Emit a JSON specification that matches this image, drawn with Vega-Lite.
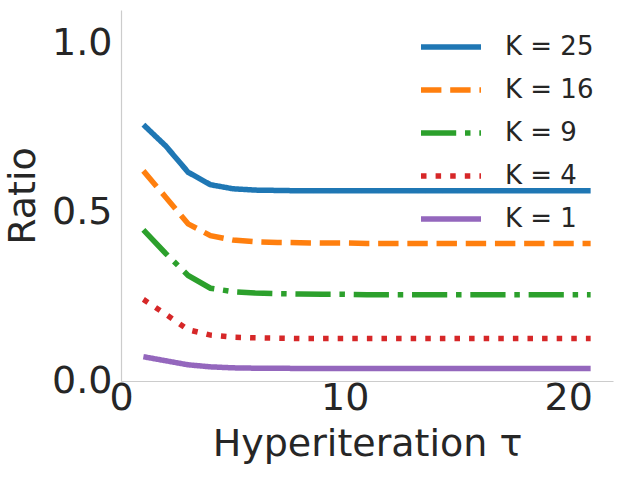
{
"$schema": "https://vega.github.io/schema/vega-lite/v6.json",
"autosize": "none",
"width": 492,
"height": 371,
"padding": {"left": 121, "top": 10, "right": 13, "bottom": 99},
"background": "white",
"config": {
  "view": {"stroke": null},
  "font": "DejaVu Sans",
  "axis": {"domainColor": "#cccccc", "domainWidth": 1.2, "ticks": false, "grid": false, "labelFlush": false,
    "labelFont": "DejaVu Sans", "labelFontSize": 38, "labelColor": "#262626",
    "titleFont": "DejaVu Sans", "titleFontSize": 38, "titleColor": "#262626", "titleFontWeight": "normal"}
},
"data": {"values": [
  {"t": 1, "K": "K = 25", "r": 0.760}, {"t": 2, "K": "K = 25", "r": 0.697}, {"t": 3, "K": "K = 25", "r": 0.619},
  {"t": 4, "K": "K = 25", "r": 0.582}, {"t": 5, "K": "K = 25", "r": 0.570}, {"t": 6, "K": "K = 25", "r": 0.566},
  {"t": 7, "K": "K = 25", "r": 0.565}, {"t": 8, "K": "K = 25", "r": 0.564}, {"t": 9, "K": "K = 25", "r": 0.564},
  {"t": 10, "K": "K = 25", "r": 0.564}, {"t": 11, "K": "K = 25", "r": 0.564}, {"t": 12, "K": "K = 25", "r": 0.564},
  {"t": 13, "K": "K = 25", "r": 0.564}, {"t": 14, "K": "K = 25", "r": 0.564}, {"t": 15, "K": "K = 25", "r": 0.564},
  {"t": 16, "K": "K = 25", "r": 0.564}, {"t": 17, "K": "K = 25", "r": 0.564}, {"t": 18, "K": "K = 25", "r": 0.564},
  {"t": 19, "K": "K = 25", "r": 0.564}, {"t": 20, "K": "K = 25", "r": 0.564}, {"t": 21, "K": "K = 25", "r": 0.564},

  {"t": 1, "K": "K = 16", "r": 0.623}, {"t": 2, "K": "K = 16", "r": 0.545}, {"t": 3, "K": "K = 16", "r": 0.466},
  {"t": 4, "K": "K = 16", "r": 0.431}, {"t": 5, "K": "K = 16", "r": 0.418}, {"t": 6, "K": "K = 16", "r": 0.413},
  {"t": 7, "K": "K = 16", "r": 0.411}, {"t": 8, "K": "K = 16", "r": 0.410}, {"t": 9, "K": "K = 16", "r": 0.409},
  {"t": 10, "K": "K = 16", "r": 0.409}, {"t": 11, "K": "K = 16", "r": 0.408}, {"t": 12, "K": "K = 16", "r": 0.408},
  {"t": 13, "K": "K = 16", "r": 0.408}, {"t": 14, "K": "K = 16", "r": 0.408}, {"t": 15, "K": "K = 16", "r": 0.408},
  {"t": 16, "K": "K = 16", "r": 0.408}, {"t": 17, "K": "K = 16", "r": 0.408}, {"t": 18, "K": "K = 16", "r": 0.408},
  {"t": 19, "K": "K = 16", "r": 0.408}, {"t": 20, "K": "K = 16", "r": 0.408}, {"t": 21, "K": "K = 16", "r": 0.408},

  {"t": 1, "K": "K = 9", "r": 0.448}, {"t": 2, "K": "K = 9", "r": 0.378}, {"t": 3, "K": "K = 9", "r": 0.313},
  {"t": 4, "K": "K = 9", "r": 0.275}, {"t": 5, "K": "K = 9", "r": 0.265}, {"t": 6, "K": "K = 9", "r": 0.261},
  {"t": 7, "K": "K = 9", "r": 0.259}, {"t": 8, "K": "K = 9", "r": 0.258}, {"t": 9, "K": "K = 9", "r": 0.257},
  {"t": 10, "K": "K = 9", "r": 0.257}, {"t": 11, "K": "K = 9", "r": 0.256}, {"t": 12, "K": "K = 9", "r": 0.256},
  {"t": 13, "K": "K = 9", "r": 0.256}, {"t": 14, "K": "K = 9", "r": 0.256}, {"t": 15, "K": "K = 9", "r": 0.256},
  {"t": 16, "K": "K = 9", "r": 0.256}, {"t": 17, "K": "K = 9", "r": 0.256}, {"t": 18, "K": "K = 9", "r": 0.256},
  {"t": 19, "K": "K = 9", "r": 0.256}, {"t": 20, "K": "K = 9", "r": 0.256}, {"t": 21, "K": "K = 9", "r": 0.256},

  {"t": 1, "K": "K = 4", "r": 0.242}, {"t": 2, "K": "K = 4", "r": 0.198}, {"t": 3, "K": "K = 4", "r": 0.152},
  {"t": 4, "K": "K = 4", "r": 0.136}, {"t": 5, "K": "K = 4", "r": 0.130}, {"t": 6, "K": "K = 4", "r": 0.128},
  {"t": 7, "K": "K = 4", "r": 0.127}, {"t": 8, "K": "K = 4", "r": 0.126}, {"t": 9, "K": "K = 4", "r": 0.126},
  {"t": 10, "K": "K = 4", "r": 0.126}, {"t": 11, "K": "K = 4", "r": 0.126}, {"t": 12, "K": "K = 4", "r": 0.126},
  {"t": 13, "K": "K = 4", "r": 0.126}, {"t": 14, "K": "K = 4", "r": 0.126}, {"t": 15, "K": "K = 4", "r": 0.126},
  {"t": 16, "K": "K = 4", "r": 0.126}, {"t": 17, "K": "K = 4", "r": 0.126}, {"t": 18, "K": "K = 4", "r": 0.126},
  {"t": 19, "K": "K = 4", "r": 0.126}, {"t": 20, "K": "K = 4", "r": 0.126}, {"t": 21, "K": "K = 4", "r": 0.126},

  {"t": 1, "K": "K = 1", "r": 0.072}, {"t": 2, "K": "K = 1", "r": 0.060}, {"t": 3, "K": "K = 1", "r": 0.048},
  {"t": 4, "K": "K = 1", "r": 0.042}, {"t": 5, "K": "K = 1", "r": 0.039}, {"t": 6, "K": "K = 1", "r": 0.038},
  {"t": 7, "K": "K = 1", "r": 0.038}, {"t": 8, "K": "K = 1", "r": 0.037}, {"t": 9, "K": "K = 1", "r": 0.037},
  {"t": 10, "K": "K = 1", "r": 0.037}, {"t": 11, "K": "K = 1", "r": 0.037}, {"t": 12, "K": "K = 1", "r": 0.037},
  {"t": 13, "K": "K = 1", "r": 0.037}, {"t": 14, "K": "K = 1", "r": 0.037}, {"t": 15, "K": "K = 1", "r": 0.037},
  {"t": 16, "K": "K = 1", "r": 0.037}, {"t": 17, "K": "K = 1", "r": 0.037}, {"t": 18, "K": "K = 1", "r": 0.037},
  {"t": 19, "K": "K = 1", "r": 0.037}, {"t": 20, "K": "K = 1", "r": 0.037}, {"t": 21, "K": "K = 1", "r": 0.037}
]},
"mark": {"type": "line", "strokeWidth": 5.5},
"encoding": {
  "x": {"field": "t", "type": "quantitative", "title": "Hyperiteration τ",
    "scale": {"domain": [0, 22], "nice": false},
    "axis": {"values": [0, 10, 20], "labelPadding": -2, "titlePadding": 8}},
  "y": {"field": "r", "type": "quantitative", "title": "Ratio",
    "scale": {"domain": [0, 1.1], "nice": false},
    "axis": {"values": [0, 0.5, 1.0], "format": ".1f", "labelPadding": 9, "titlePadding": 9}},
  "color": {"field": "K", "type": "nominal",
    "scale": {"domain": ["K = 25", "K = 16", "K = 9", "K = 4", "K = 1"],
      "range": ["#1f77b4", "#ff7f0e", "#2ca02c", "#d62728", "#9467bd"]},
    "legend": {"title": null, "orient": "none", "legendX": 315, "legendY": 22,
      "symbolType": "M-2.5,0H2.5", "symbolSize": 576, "symbolStrokeWidth": 5.5,
      "labelFontSize": 26, "labelColor": "#262626", "labelFont": "DejaVu Sans",
      "labelOffset": 39, "rowPadding": 15}},
  "strokeDash": {"field": "K", "type": "nominal",
    "scale": {"domain": ["K = 25", "K = 16", "K = 9", "K = 4", "K = 1"],
      "range": [[1, 0], [20.4, 8.8], [35.2, 8.8, 5.5, 8.8], [5.5, 9.1], [1, 0]]},
    "legend": {"title": null, "orient": "none", "legendX": 315, "legendY": 22,
      "symbolType": "M-2.5,0H2.5", "symbolSize": 576, "symbolStrokeWidth": 5.5,
      "labelFontSize": 26, "labelColor": "#262626", "labelFont": "DejaVu Sans",
      "labelOffset": 39, "rowPadding": 15}}
}
}
